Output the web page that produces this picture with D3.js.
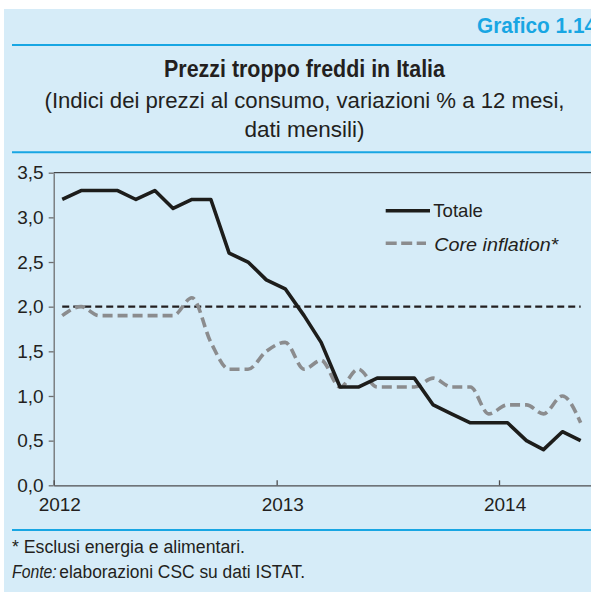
<!DOCTYPE html>
<html>

<head>
    <meta charset="utf-8">
    <title>Prezzi troppo freddi in Italia</title>
    <style>
        body { margin: 0; background: #fff; }
        svg { display: block; }
        .cond { font-family: "Liberation Sans Narrow", "Arial Narrow", "Liberation Sans", Arial, sans-serif; }
        .reg { font-family: "Liberation Sans", Arial, Helvetica, sans-serif; }
    </style>
</head>

<body>
    <svg id="chart"></svg>
</body>
<script src="https://cdn.jsdelivr.net/npm/d3@7"></script>

<script>
    // mesi (gen 2012 - mag 2014)
    const months = [
        "2012-01", "2012-02", "2012-03", "2012-04", "2012-05", "2012-06",
        "2012-07", "2012-08", "2012-09", "2012-10", "2012-11", "2012-12",
        "2013-01", "2013-02", "2013-03", "2013-04", "2013-05", "2013-06",
        "2013-07", "2013-08", "2013-09", "2013-10", "2013-11", "2013-12",
        "2014-01", "2014-02", "2014-03", "2014-04", "2014-05"
    ];
    const totale = [
        3.2, 3.3, 3.3, 3.3, 3.2, 3.3, 3.1, 3.2, 3.2, 2.6, 2.5, 2.3,
        2.2, 1.9, 1.6, 1.1, 1.1, 1.2, 1.2, 1.2, 0.9, 0.8, 0.7, 0.7,
        0.7, 0.5, 0.4, 0.6, 0.5
    ];
    const core = [
        1.9, 2.0, 1.9, 1.9, 1.9, 1.9, 1.9, 2.1, 1.6, 1.3, 1.3, 1.5,
        1.6, 1.3, 1.4, 1.1, 1.3, 1.1, 1.1, 1.1, 1.2, 1.1, 1.1, 0.8,
        0.9, 0.9, 0.8, 1.0, 0.7
    ];
    const target = 2.0;
    const yTicks = [0, 0.5, 1, 1.5, 2, 2.5, 3, 3.5];
    const xTicks = ["2012-01", "2013-01", "2014-01"];
    const legendLabels = ["Totale", "Core inflation*"];

    const W = 591, H = 592;
    const BLUE = "#18a6e3", BG = "#d6ecf8", INK = "#231f20";

    const svg = d3.select("#chart")
        .attr("width", W)
        .attr("height", H);

    // sfondo
    svg.append("rect")
        .attr("x", 4).attr("y", 9)
        .attr("width", W - 4).attr("height", H - 9)
        .attr("fill", BG);

    //#region intestazione
    svg.append("text")
        .attr("class", "cond")
        .attr("x", 477).attr("y", 33.3)
        .attr("font-size", 22).attr("font-weight", "bold")
        .attr("fill", BLUE)
        .attr("textLength", 119).attr("lengthAdjust", "spacingAndGlyphs")
        .text("Grafico 1.14");

    [45, 152.3, 530].forEach(yy => {
        svg.append("line")
            .attr("x1", 12).attr("x2", W)
            .attr("y1", yy).attr("y2", yy)
            .attr("stroke", BLUE).attr("stroke-width", 2);
    });

    const titles = [
        { t: "Prezzi troppo freddi in Italia", y: 76.7, w: 281, bold: true, size: 23 },
        { t: "(Indici dei prezzi al consumo, variazioni % a 12 mesi,", y: 108.3, w: 520, bold: false, size: 21.5 },
        { t: "dati mensili)", y: 137.3, w: 120, bold: false, size: 21.5 }
    ];
    titles.forEach(d => {
        svg.append("text")
            .attr("class", "cond")
            .attr("x", 304.5).attr("y", d.y)
            .attr("text-anchor", "middle")
            .attr("font-size", d.size)
            .attr("font-weight", d.bold ? "bold" : "normal")
            .attr("fill", INK)
            .attr("textLength", d.w).attr("lengthAdjust", "spacingAndGlyphs")
            .text(d.t);
    });
    //#endregion intestazione

    //#region scale e assi
    const parse = d3.timeParse("%Y-%m");
    const mid = s => d3.timeDay.offset(parse(s), 14);   // punto a metà mese

    const x = d3.scaleTime()
        .domain([new Date(2012, 0, 1), new Date(2014, 5, 1)])
        .range([53.7, W]);
    const y = d3.scaleLinear()
        .domain([0, 3.5])
        .range([485.3, 172.7]);

    const it = d3.formatLocale({ decimal: ",", thousands: ".", grouping: [3], currency: ["", "€"] });
    const fmt = it.format(".1f");

    // riga in alto a 3,5
    svg.append("line")
        .attr("x1", x.range()[0]).attr("x2", x.range()[1])
        .attr("y1", y(3.5)).attr("y2", y(3.5))
        .attr("stroke", INK).attr("stroke-width", 1);

    const gy = svg.append("g")
        .attr("transform", `translate(${x.range()[0]},0)`)
        .call(d3.axisLeft(y).tickValues(yTicks).tickFormat(fmt).tickSize(5).tickSizeOuter(0).tickPadding(5));
    gy.select(".domain").attr("stroke", "#6d6e70").attr("stroke-width", 1.3);
    gy.selectAll(".tick line").attr("stroke", "#6d6e70").attr("stroke-width", 1.3);
    gy.selectAll("text")
        .attr("class", "reg")
        .attr("font-size", 19)
        .attr("fill", INK);

    const gx = svg.append("g")
        .attr("transform", `translate(0,${y(0)})`)
        .call(d3.axisBottom(x).tickValues(xTicks.map(parse)).tickFormat(d3.timeFormat("%Y"))
            .tickSize(-5).tickSizeOuter(0).tickPadding(12));
    gx.select(".domain").attr("stroke", "#4d4d4f").attr("stroke-width", 1.3);
    gx.selectAll(".tick line").attr("stroke", "#4d4d4f").attr("stroke-width", 1.3);
    gx.selectAll("text")
        .attr("class", "reg")
        .attr("font-size", 19)
        .attr("dx", 5.6)
        .attr("fill", INK);
    //#endregion scale e assi

    //#region linee
    const dates = months.map(mid);

    // riferimento 2%
    svg.append("line")
        .attr("x1", x(dates[0])).attr("x2", x(dates[dates.length - 1]))
        .attr("y1", y(target)).attr("y2", y(target))
        .attr("stroke", INK).attr("stroke-width", 2.2)
        .attr("stroke-dasharray", "7,4");

    const lineCore = d3.line()
        .x((d, i) => x(dates[i]))
        .y(d => y(d))
        .curve(d3.curveMonotoneX);
    const lineTot = d3.line()
        .x((d, i) => x(dates[i]))
        .y(d => y(d));

    svg.append("path")
        .datum(core)
        .attr("d", lineCore)
        .attr("fill", "none")
        .attr("stroke", "#8b8c8e")
        .attr("stroke-width", 3.6)
        .attr("stroke-dasharray", "10,5");

    svg.append("path")
        .datum(totale)
        .attr("d", lineTot)
        .attr("fill", "none")
        .attr("stroke", "#1d1d1b")
        .attr("stroke-width", 3.6)
        .attr("stroke-linejoin", "round");
    //#endregion linee

    //#region legenda
    const leg = svg.append("g");
    leg.append("line")
        .attr("x1", 385.7).attr("x2", 430)
        .attr("y1", 210.7).attr("y2", 210.7)
        .attr("stroke", "#1d1d1b").attr("stroke-width", 3.6);
    leg.append("text")
        .attr("class", "reg")
        .attr("x", 433.3).attr("y", 216.7)
        .attr("font-size", 18.6).attr("fill", INK)
        .text(legendLabels[0]);
    leg.append("line")
        .attr("x1", 385.7).attr("x2", 426)
        .attr("y1", 243.3).attr("y2", 243.3)
        .attr("stroke", "#8b8c8e").attr("stroke-width", 3.6)
        .attr("stroke-dasharray", "11,4.5");
    leg.append("text")
        .attr("class", "reg")
        .attr("x", 434.3).attr("y", 251)
        .attr("font-size", 18.6).attr("font-style", "italic").attr("fill", INK)
        .attr("textLength", 124).attr("lengthAdjust", "spacingAndGlyphs")
        .text(legendLabels[1]);
    //#endregion legenda

    //#region note
    svg.append("text")
        .attr("class", "cond")
        .attr("x", 12).attr("y", 552.7)
        .attr("font-size", 18).attr("fill", INK)
        .attr("textLength", 233).attr("lengthAdjust", "spacingAndGlyphs")
        .text("* Esclusi energia e alimentari.");
    svg.append("text")
        .attr("class", "cond")
        .attr("x", 12).attr("y", 577.7)
        .attr("font-size", 18).attr("font-style", "italic").attr("fill", INK)
        .attr("textLength", 44.7).attr("lengthAdjust", "spacingAndGlyphs")
        .text("Fonte:");
    svg.append("text")
        .attr("class", "cond")
        .attr("x", 59.3).attr("y", 577.7)
        .attr("font-size", 18).attr("fill", INK)
        .attr("textLength", 245.7).attr("lengthAdjust", "spacingAndGlyphs")
        .text("elaborazioni CSC su dati ISTAT.");
    //#endregion note
</script>

</html>
